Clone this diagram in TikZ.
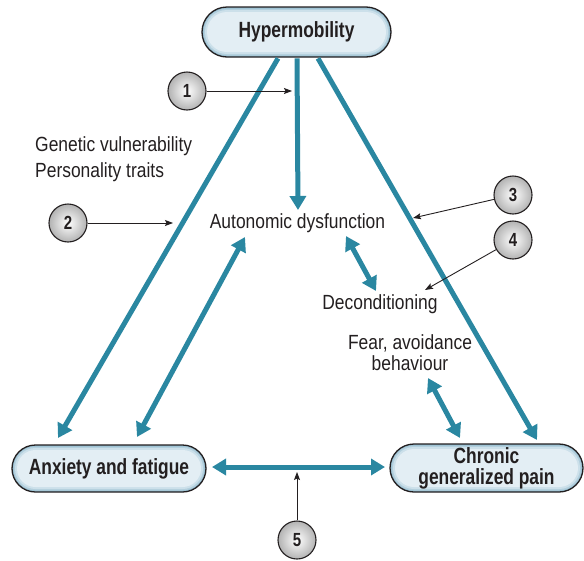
\documentclass[tikz,border=0pt]{standalone}
\usepackage{fontspec}
\setmainfont{Liberation Sans}[FakeStretch=0.85]
\newfontfamily\boxfont{Liberation Sans}[FakeStretch=0.79]
\usetikzlibrary{arrows.meta,shapes.misc,calc}

\definecolor{flow}{HTML}{2A87A1}
\definecolor{ink}{HTML}{231F20}
\definecolor{rimA}{HTML}{97BED1}
\definecolor{rimB}{HTML}{B2CFDD}
\definecolor{rimC}{HTML}{CCE0EA}
\definecolor{rimD}{HTML}{E3EEF4}

% soft inner rim of a pill: centre x, centre y, width, height
\newcommand\pillglow[4]{%
  \foreach \d/\col in {0/rimA,1.5/rimB,3/rimC,5/rimD}{%
    \pgfmathsetmacro\rr{#4/2-\d-0.01}%
    \fill[\col, rounded corners=\rr pt]
      (#1-#3/2+\d,#2-#4/2+\d) rectangle (#1+#3/2-\d,#2+#4/2-\d);
  }%
}

\tikzset{
  pill/.style={rounded rectangle, draw=ink, line width=1.3pt, inner sep=0pt,
    text=ink, align=center,
    font=\boxfont\bfseries\fontsize{22}{21}\selectfont},
  numc/.style={circle, draw=ink, line width=1.1pt, minimum size=38pt, inner sep=0pt,
    inner color=white, outer color=black!30, text=ink,
    font=\boxfont\bfseries\fontsize{19}{19}\selectfont},
  lbl/.style={inner sep=0pt, text=ink, font=\fontsize{20.5}{24}\selectfont},
  flowone/.style={draw=flow, line width=5pt, -{Triangle[length=14pt,width=16pt]}},
  flowboth/.style={draw=flow, line width=5pt,
    {Triangle[length=14pt,width=16pt]}-{Triangle[length=14pt,width=16pt]}},
  pointer/.style={draw=ink, line width=0.9pt, -{Stealth[length=8pt,width=6pt,inset=1.5pt]}},
}

\begin{document}
\begin{tikzpicture}[x=1pt,y=-1pt]
\useasboundingbox (0,0) rectangle (584,560);

% boxes
\pillglow{296.5}{32}{189}{50}
\node[pill, minimum width=189pt, minimum height=50pt] (hyper) at (296.5,32) {Hypermobility};
\pillglow{109}{468.5}{194}{47}
\node[pill, minimum width=194pt, minimum height=47pt] (anx) at (109,468.5) {Anxiety and fatigue};
\pillglow{486.5}{468}{193}{48}
\node[pill, minimum width=193pt, minimum height=48pt] (pain) at (486.5,468) {Chronic\\generalized pain};

% free labels
\node[lbl, anchor=base west] (gen) at (35,151) {Genetic vulnerability};
\node[lbl, anchor=base west] (pers) at (35,177) {Personality traits};
\node[lbl, anchor=base] (auto) at (297.5,228) {Autonomic dysfunction};
\node[lbl, anchor=base] (decon) at (380,309) {Deconditioning};
\node[lbl, anchor=base] (fear) at (410,349) {Fear, avoidance};
\node[lbl, anchor=base] (behav) at (410,370) {behaviour};

% arrow tips
\coordinate (tAnxL) at (58,438);
\coordinate (tAuto) at (298,210);
\coordinate (tPainR) at (537,440);
\coordinate (aaTop) at (245,237);
\coordinate (aaBot) at (137,437);
\coordinate (adTop) at (346,236);
\coordinate (adBot) at (376,291);
\coordinate (fcTop) at (428,378);
\coordinate (fcBot) at (460,438);
\coordinate (hL) at (212,467);
\coordinate (hR) at (385,467);

% main flows
\draw[flowone] ($(hyper.south)+(-18.5,0.7)$) -- (tAnxL);
\draw[flowone] ($(hyper.south)+(0.5,0.7)$) -- (tAuto);
\draw[flowone] ($(hyper.south)+(21.5,0.7)$) -- (tPainR);
\draw[flowboth] (aaTop) -- (aaBot);
\draw[flowboth] (adTop) -- (adBot);
\draw[flowboth] (fcTop) -- (fcBot);
\draw[flowboth] (hL) -- (hR);

% numbered markers
\node[numc] (n1) at (187,91) {1};
\node[numc] (n2) at (68,223) {2};
\node[numc] (n3) at (513,195) {3};
\node[numc] (n4) at (513,240) {4};
\node[numc] (n5) at (297,540) {5};

\coordinate (p1) at (292,91);
\coordinate (p2) at (173,223);
\coordinate (p3) at (413,218);
\coordinate (p4) at (425,290);
\coordinate (p5) at (297,472);

\draw[pointer] (n1) -- (p1);
\draw[pointer] (n2) -- (p2);
\draw[pointer] (n3) -- (p3);
\draw[pointer] (n4) -- (p4);
\draw[pointer] (n5) -- (p5);
\end{tikzpicture}
\end{document}
